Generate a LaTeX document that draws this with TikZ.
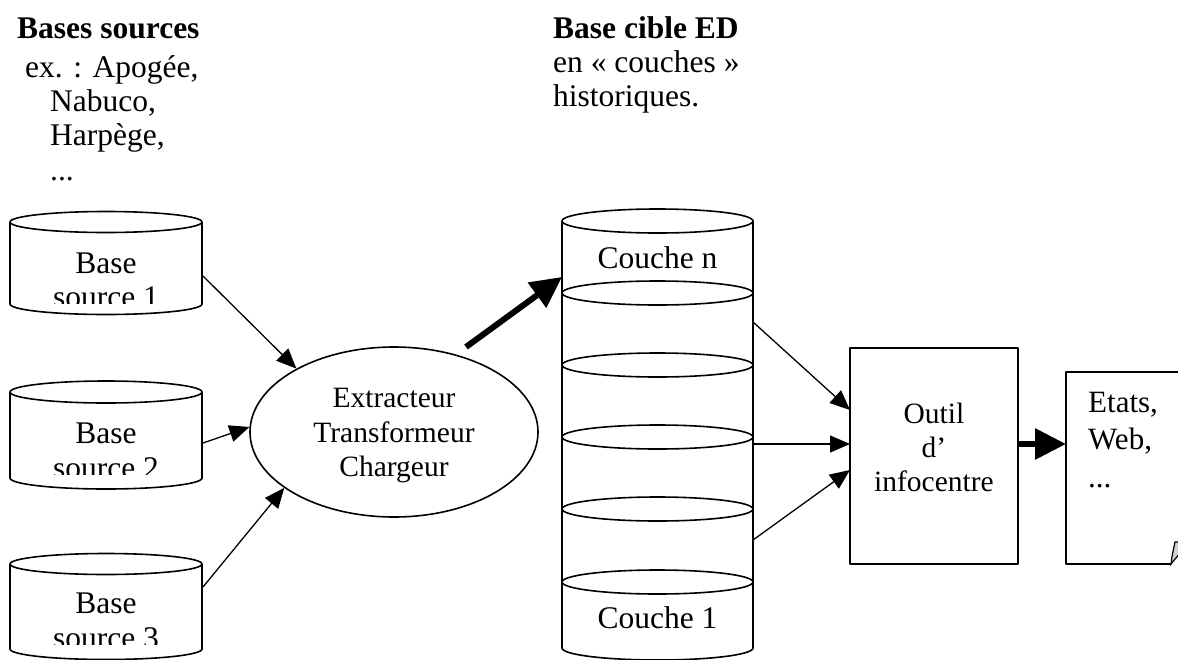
\documentclass[tikz,border=0pt]{standalone}
\usepackage{fontspec}
\setmainfont{Liberation Serif}
\usetikzlibrary{shapes.geometric,arrows.meta,calc}

\begin{document}
\begin{tikzpicture}[x=1pt,y=-1pt,
  shapeline/.style={line width=1.6pt, line join=round},
  thinarrow/.style={line width=1.3pt, -{Triangle[length=20pt,width=17pt]}},
  bigarrow/.style={line width=6pt, -{Triangle[length=31pt,width=30pt]}},
  txt/.style={inner sep=0pt, anchor=base, font=\fontsize{31.5}{35}\selectfont},
  txtw/.style={txt, anchor=base west},
  hdr/.style={txtw, font=\fontsize{31.5}{35}\selectfont\bfseries},
  small/.style={font=\fontsize{29.5}{34.5}\selectfont},
  area/.style={inner sep=0pt, outer sep=0pt, rectangle},
  pics/dbcyl/.style n args={3}{code={
    % #1 = height of the body, #2 = x radius, #3 = y radius; origin = centre of the lid
    \fill[white] (-#2,0) -- (-#2,#1) .. controls (-#2,#1+0.5523*#3) and (-0.5523*#2,#1+#3) .. (0,#1+#3)
      .. controls (0.5523*#2,#1+#3) and (#2,#1+0.5523*#3) .. (#2,#1) -- (#2,0) -- cycle;
    \draw[shapeline] (-#2,0) -- (-#2,#1) .. controls (-#2,#1+0.5523*#3) and (-0.5523*#2,#1+#3) .. (0,#1+#3)
      .. controls (0.5523*#2,#1+#3) and (#2,#1+0.5523*#3) .. (#2,#1) -- (#2,0);
    \draw[shapeline, fill=white] (0,0) ellipse [x radius=#2, y radius=#3];
  }}
]
\useasboundingbox (0,0) rectangle (1178,659);
\fill[white] (0,0) rectangle (1178,659);

% ---- headings ----
\node[hdr] (hsrc) at (17,38) {Bases sources};
\node[txtw] (hsrc1) at (25,77) {ex. : Apogée,};
\node[txtw] (hsrc2) at (50,111) {Nabuco,};
\node[txtw] (hsrc3) at (50,145) {Harpège,};
\node[txtw] (hsrc4) at (50,180) {...};

\node[hdr] (hed) at (553,38) {Base cible ED};
\node[txtw] (hed1) at (553,72) {en « couches »};
\node[txtw] (hed2) at (553,106) {historiques.};

% ---- source databases (labels cut off by the text area) ----
\pic at (106,222) {dbcyl={82}{96}{10.5}};
\node[area, minimum width=192pt, minimum height=82pt] (src1) at (106,263) {};
\begin{scope}
  \clip (10,222) rectangle (202,303);
  \node[txt] (src1a) at (106,273) {Base};
  \node[txt] (src1b) at (106,307) {source 1};
\end{scope}

\pic at (106,392) {dbcyl={86}{96}{11}};
\node[area, minimum width=192pt, minimum height=86pt] (src2) at (106,435) {};
\begin{scope}
  \clip (10,392) rectangle (202,474);
  \node[txt] (src2a) at (106,443) {Base};
  \node[txt] (src2b) at (106,478) {source 2};
\end{scope}

\pic at (106,564) {dbcyl={85}{96}{10.5}};
\node[area, minimum width=192pt, minimum height=85pt] (src3) at (106,606.5) {};
\begin{scope}
  \clip (10,564) rectangle (202,644);
  \node[txt] (src3a) at (106,613) {Base};
  \node[txt] (src3b) at (106,648) {source 3};
\end{scope}

% ---- ETL ----
\node[ellipse, shapeline, draw, fill=white, inner sep=0pt,
      minimum width=288pt, minimum height=170pt] (etc) at (394,432) {};
\node[txt, small, anchor=center, align=center] (etctext) at (394,436)
  {Extracteur\\Transformeur\\Chargeur};

% ---- data warehouse in layers ----
\pic at (657.5,221) {dbcyl={427}{95.5}{12}};
\foreach \yy in {293,365,437,509,582}
  \draw[shapeline] (657.5,\yy) ellipse [x radius=95.5, y radius=12];
\node[area, minimum width=191pt, minimum height=427pt] (ed) at (657.5,434.5) {};
\node[txt] (layn) at (657.5,268) {Couche n};
\node[txt] (lay1) at (657.5,628) {Couche 1};

% ---- reporting tool ----
\node[area, draw, shapeline, fill=white, minimum width=168pt, minimum height=216pt] (outil) at (934,456) {};
\node[txt, small] (outil1) at (934,423) {Outil};
\node[txt, small] (outil2) at (934,457) {d’};
\node[txt, small] (outil3) at (934,491) {infocentre};

% ---- output document ----
\node[area, minimum width=130pt, minimum height=192pt] (doc) at (1131,468) {};
\draw[shapeline] (doc.north east) -- (doc.north west) -- (doc.south west) -- ($(doc.south west)+(105,0)$);
\filldraw[line width=1.2pt, fill=gray!35] ($(doc.south west)+(105,0)$) .. controls (1172,556) .. (1175,542)
  -- (1180,542) -- (1180,553) -- cycle;
\node[txtw, font=\fontsize{31}{35}\selectfont] (doc1) at (1088,412) {Etats,};
\node[txtw, font=\fontsize{31}{35}\selectfont] (doc2) at (1088,449) {Web,};
\node[txtw, font=\fontsize{31}{35}\selectfont] (doc3) at (1088,487) {...};

% ---- connectors ----
\draw[thinarrow] ($(src1.north east)+(1,54)$) -- (etc.147);
\draw[thinarrow] ($(src2.north east)+(1,51)$) -- (etc.178);
\draw[thinarrow] ($(src3.north east)+(1,23)$) -- (etc.207);

\draw[bigarrow] ($(etc.center)+(72,-85)$) -- ($(ed.north west)+(0,56)$);

\draw[thinarrow] ($(ed.north east)+(0,101)$) -- ($(outil.north west)+(0,62)$);
\draw[thinarrow] ($(ed.north east)+(0,223)$) -- ($(outil.north west)+(0,96)$);
\draw[thinarrow] ($(ed.north east)+(0,319)$) -- ($(outil.north west)+(0,122)$);

\draw[bigarrow] ($(outil.east)+(0,-12)$) -- ($(doc.west)+(0,-24)$);
\end{tikzpicture}
\end{document}
